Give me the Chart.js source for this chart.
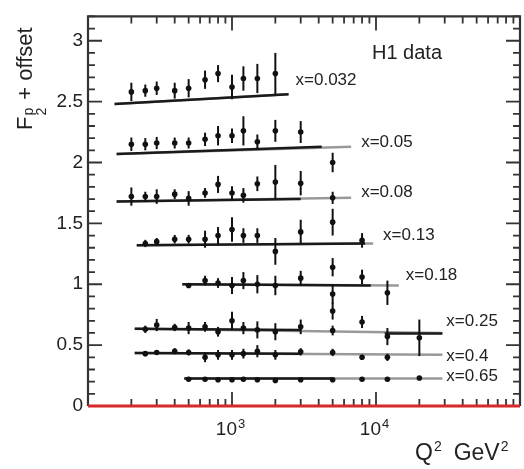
<!DOCTYPE html>
<html>
<head>
<meta charset="utf-8">
<script src="https://cdn.jsdelivr.net/npm/chart.js@4.4.0/dist/chart.umd.min.js"></script>
<style>
  html, body { margin: 0; padding: 0; background: #fff; }
</style>
</head>
<body>
<canvas id="f2Chart" width="524" height="469"></canvas>
<script>
// F2 proton structure function vs Q2, one row per x bin (offset added)
const xBins = ['0.032', '0.05', '0.08', '0.13', '0.18', '0.25', '0.4', '0.65'];

const q2Points = [
    [200, 250, 300, 400, 500, 650, 800, 1000, 1200, 1500, 2000],
    [200, 250, 300, 400, 500, 650, 800, 1000, 1200, 1500, 2000, 3000, 5000],
    [200, 250, 300, 400, 500, 650, 800, 1000, 1200, 1500, 2000, 3000, 5000],
    [250, 300, 400, 500, 650, 800, 1000, 1200, 1500, 2000, 3000, 5000, 8000],
    [500, 650, 800, 1000, 1200, 1500, 2000, 3000, 5000, 5000, 8000, 12000],
    [250, 300, 400, 500, 650, 800, 1000, 1200, 1500, 2000, 3000, 5000, 5000, 8000, 12000, 20000],
    [250, 300, 400, 500, 650, 800, 1000, 1200, 1500, 2000, 3000, 5000, 8000, 12000],
    [500, 650, 800, 1000, 1200, 1500, 2000, 3000, 5000, 8000, 12000, 20000]
];

const f2Points = [
    [2.58, 2.59, 2.61, 2.59, 2.61, 2.68, 2.73, 2.62, 2.69, 2.69, 2.73],
    [2.15, 2.15, 2.16, 2.16, 2.16, 2.19, 2.22, 2.22, 2.26, 2.17, 2.26, 2.25, 2.0],
    [1.72, 1.72, 1.72, 1.74, 1.705, 1.75, 1.82, 1.75, 1.73, 1.825, 1.84, 1.83, 1.71],
    [1.335, 1.35, 1.37, 1.37, 1.37, 1.40, 1.45, 1.40, 1.40, 1.27, 1.43, 1.51, 1.36],
    [0.99, 1.03, 1.01, 0.99, 1.03, 1.0, 0.99, 1.05, 1.14, 0.92, 1.06, 0.93],
    [0.63, 0.665, 0.645, 0.64, 0.65, 0.61, 0.70, 0.64, 0.625, 0.61, 0.65, 0.78, 0.62, 0.69, 0.57, 0.56],
    [0.43, 0.44, 0.45, 0.44, 0.40, 0.42, 0.42, 0.43, 0.45, 0.42, 0.445, 0.44, 0.40, 0.40],
    [0.22, 0.22, 0.215, 0.215, 0.22, 0.215, 0.21, 0.215, 0.215, 0.22, 0.22, 0.23]
];

const f2Errors = [
    [0.075, 0.05, 0.055, 0.065, 0.075, 0.075, 0.07, 0.1, 0.1, 0.12, 0.17],
    [0.055, 0.05, 0.05, 0.045, 0.045, 0.055, 0.08, 0.06, 0.12, 0.06, 0.09, 0.09, 0.08],
    [0.075, 0.04, 0.06, 0.04, 0.06, 0.04, 0.07, 0.055, 0.06, 0.06, 0.14, 0.1, 0.05],
    [0.03, 0.03, 0.035, 0.035, 0.07, 0.07, 0.1, 0.06, 0.06, 0.11, 0.1, 0.11, 0.06],
    [0.02, 0.04, 0.04, 0.07, 0.07, 0.075, 0.08, 0.06, 0.075, 0.08, 0.06, 0.1],
    [0.03, 0.05, 0.03, 0.05, 0.04, 0.04, 0.075, 0.05, 0.07, 0.07, 0.06, 0.07, 0.04, 0.05, 0.07, 0.15],
    [0.02, 0.02, 0.025, 0.025, 0.04, 0.04, 0.04, 0.04, 0.05, 0.04, 0.03, 0.03, 0.02, 0.03],
    [0.015, 0.015, 0.015, 0.015, 0.015, 0.015, 0.015, 0.015, 0.015, 0.015, 0.015, 0.015]
];

// QCD fit curves (start / end of each row)
const fitQ2Lo = [153, 158, 158, 218, 452, 211, 211, 466];
const fitQ2Hi = [2470, 6720, 6720, 9550, 14400, 28900, 28900, 28900];
const fitF2Lo = [2.48, 2.07, 1.68, 1.32, 1.0, 0.635, 0.435, 0.225];
const fitF2Hi = [2.56, 2.13, 1.71, 1.335, 0.99, 0.60, 0.42, 0.225];
// dark part of the fit
const darkQ2End = [2470, 4200, 3000, 8400, 9200, 3000, 3000, 5000];
const darkF2End = [2.56, 2.13, 1.70, 1.335, 0.99, 0.625, 0.43, 0.225];
// high-Q2 piece of the x=0.25 fit
const tail25Q2 = [11500, 28900];
const tail25F2 = [0.595, 0.595];

const FONT = '"Liberation Sans", Arial, sans-serif';
const INK = '#222';

const datasets = [];
xBins.forEach((xb, i) => {
    datasets.push({
        type: 'line',
        data: [{ x: fitQ2Lo[i], y: fitF2Lo[i] }, { x: fitQ2Hi[i], y: fitF2Hi[i] }],
        borderColor: '#999', borderWidth: 2.5, pointRadius: 0, order: 3
    });
    datasets.push({
        type: 'line',
        data: [{ x: fitQ2Lo[i], y: fitF2Lo[i] }, { x: darkQ2End[i], y: darkF2End[i] }],
        borderColor: '#1a1a1a', borderWidth: 2.5, pointRadius: 0, order: 2
    });
    datasets.push({
        label: 'x=' + xb,
        data: q2Points[i].map((q, j) => ({ x: q, y: f2Points[i][j] })),
        backgroundColor: '#111', borderWidth: 0, pointRadius: 2.8, order: 1
    });
});
datasets.push({
    type: 'line',
    data: tail25Q2.map((q, j) => ({ x: q, y: tail25F2[j] })),
    borderColor: '#1a1a1a', borderWidth: 2.5, pointRadius: 0, order: 2
});

// vertical error bars through the scales
const errorBars = {
    id: 'errorBars',
    afterDatasetsDraw(chart) {
        const { ctx, scales: { x, y } } = chart;
        ctx.save();
        ctx.strokeStyle = '#111';
        ctx.lineWidth = 2;
        q2Points.forEach((qs, i) => {
            qs.forEach((q, j) => {
                const px = x.getPixelForValue(q);
                const f = f2Points[i][j], e = f2Errors[i][j];
                ctx.beginPath();
                ctx.moveTo(px, y.getPixelForValue(f - e));
                ctx.lineTo(px, y.getPixelForValue(f + e));
                ctx.stroke();
            });
        });
        ctx.restore();
    }
};

// box frame with inward ticks on all four sides
const frame = {
    id: 'frame',
    afterDraw(chart) {
        const { ctx, chartArea: a, scales: { x, y } } = chart;
        ctx.save();
        ctx.strokeStyle = '#333';
        ctx.lineWidth = 1.8;
        ctx.beginPath();
        for (let k = 0; k <= 32; k++) {
            const py = y.getPixelForValue(k / 10);
            const len = k % 5 === 0 ? 14 : 7;
            ctx.moveTo(a.left, py); ctx.lineTo(a.left + len, py);
            ctx.moveTo(a.right, py); ctx.lineTo(a.right - len, py);
        }
        for (let d = 100; d < 1e5; d *= 10) {
            for (let m = 1; m < 10; m++) {
                const px = x.getPixelForValue(m * d);
                const len = m === 1 ? 14 : 7;
                ctx.moveTo(px, a.bottom); ctx.lineTo(px, a.bottom - len);
                ctx.moveTo(px, a.top); ctx.lineTo(px, a.top + len);
            }
        }
        ctx.stroke();

        ctx.lineWidth = 2.2;
        ctx.beginPath();
        ctx.moveTo(a.left, a.bottom);
        ctx.lineTo(a.left, a.top);
        ctx.lineTo(a.right, a.top);
        ctx.lineTo(a.right, a.bottom);
        ctx.stroke();

        // zero line in red
        ctx.strokeStyle = '#d82828';
        ctx.lineWidth = 3;
        ctx.beginPath();
        ctx.moveTo(a.left, a.bottom);
        ctx.lineTo(a.right, a.bottom);
        ctx.stroke();
        ctx.restore();
    }
};

// axis titles, decade labels and row labels
const labelDx = [7, 10, 10, 10, 7, 4, 4, 4];
const labelDy = [-14, -4, -5, -8, -10, -12, 1, -2];

const texts = {
    id: 'texts',
    afterDraw(chart) {
        const { ctx, scales: { x, y } } = chart;
        ctx.save();
        ctx.fillStyle = INK;
        ctx.textBaseline = 'middle';
        ctx.textAlign = 'left';

        // row labels
        ctx.font = '17px ' + FONT;
        xBins.forEach((xb, i) => {
            const px = x.getPixelForValue(fitQ2Hi[i]) + labelDx[i];
            const py = y.getPixelForValue(fitF2Hi[i]) + labelDy[i];
            ctx.fillText('x=' + xb, px, py);
        });

        ctx.font = '20px ' + FONT;
        ctx.fillText('H1 data', 372, 53);

        // decade tick labels 10^3, 10^4
        ctx.textBaseline = 'alphabetic';
        [[1000, '3'], [10000, '4']].forEach(([v, p]) => {
            const px = x.getPixelForValue(v);
            ctx.font = '19px ' + FONT;
            const w1 = ctx.measureText('10').width;
            ctx.font = '13px ' + FONT;
            const w2 = ctx.measureText(p).width;
            const x0 = px - (w1 + w2) / 2 - 2;
            ctx.font = '19px ' + FONT;
            ctx.fillText('10', x0, 435);
            ctx.font = '13px ' + FONT;
            ctx.fillText(p, x0 + w1 + 1, 428);
        });

        // x title
        let cx = 415;
        ctx.font = '23px ' + FONT;
        ctx.fillText('Q', cx, 460);
        cx += ctx.measureText('Q').width + 1;
        ctx.font = '14px ' + FONT;
        ctx.fillText('2', cx, 451);
        cx += ctx.measureText('2').width + 12;
        ctx.font = '23px ' + FONT;
        ctx.fillText('GeV', cx, 460);
        cx += ctx.measureText('GeV').width + 1;
        ctx.font = '14px ' + FONT;
        ctx.fillText('2', cx, 451);

        // y title, rotated
        ctx.translate(32, 130);
        ctx.rotate(-Math.PI / 2);
        ctx.font = '22px ' + FONT;
        ctx.fillText('F', 0, 0);
        let tx = ctx.measureText('F').width + 1;
        ctx.font = '14px ' + FONT;
        ctx.fillText('p', tx, 1);
        ctx.fillText('2', tx, 14);
        tx += ctx.measureText('p').width + 2;
        ctx.font = '22px ' + FONT;
        ctx.fillText(' + offset', tx, 0);
        ctx.restore();
    }
};

new Chart(document.getElementById('f2Chart'), {
    type: 'scatter',
    data: { datasets },
    options: {
        responsive: false,
        animation: false,
        devicePixelRatio: 1,
        layout: { padding: { top: 9, right: 1, left: 0, bottom: 0 } },
        plugins: { legend: { display: false }, tooltip: { enabled: false } },
        scales: {
            x: {
                type: 'logarithmic',
                min: 100,
                max: 100000,
                grid: { display: false, drawTicks: false },
                border: { display: false },
                ticks: { display: false },
                afterFit: (axis) => { axis.height = 63; }
            },
            y: {
                min: 0,
                max: 3.2,
                grid: { display: false, drawTicks: false },
                border: { display: false },
                ticks: {
                    stepSize: 0.5,
                    includeBounds: false,
                    padding: 5,
                    color: INK,
                    font: { family: FONT, size: 19 },
                    callback: (v) => String(v)
                },
                afterFit: (axis) => { axis.width = 88; }
            }
        }
    },
    plugins: [errorBars, frame, texts]
});
</script>
</body>
</html>
